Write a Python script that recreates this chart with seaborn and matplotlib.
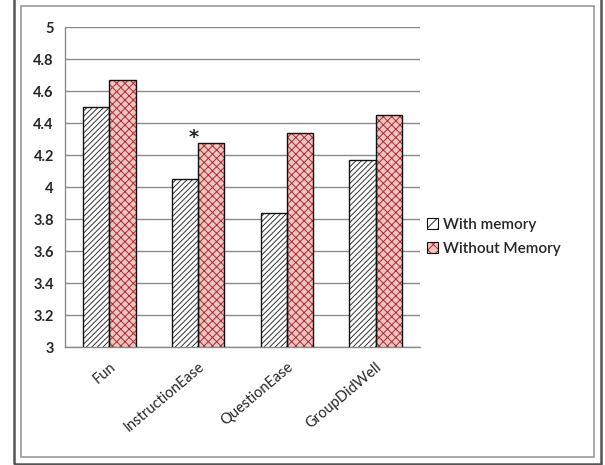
import matplotlib
matplotlib.use('Agg')
import matplotlib.pyplot as plt
from matplotlib.patches import Rectangle, Patch
from matplotlib.ticker import FormatStrFormatter
import pandas as pd
import seaborn as sns

# values
categories = ['Fun', 'InstructionEase', 'QuestionEase', 'GroupDidWell']
with_memory = [4.50, 4.05, 3.84, 4.17]
without_memory = [4.67, 4.28, 4.34, 4.45]
series = ['With memory', 'Without Memory']

df = pd.DataFrame({
    'category': categories * 2,
    'score': with_memory + without_memory,
    'group': [series[0]] * 4 + [series[1]] * 4,
})

sns.set_style('white')
plt.rcParams['font.family'] = ['Lato', 'DejaVu Sans']
plt.rcParams['hatch.linewidth'] = 0.7

fig = plt.figure(figsize=(6.05, 4.65), dpi=100)
ax = fig.add_axes([0.1074, 0.2531, 0.5868, 0.6882])

sns.barplot(data=df, x='category', y='score', hue='group', order=categories,
            hue_order=series, width=0.59, ax=ax, legend=False)

styles = [
    dict(face='white', hatch='//////', hcolor='#333333'),
    dict(face='#ebc4c4', hatch='xxxx', hcolor='#b22a2a'),
]
for cont, st in zip(ax.containers, styles):
    for p in cont:
        p.set_facecolor(st['face'])
        p.set_hatch(st['hatch'])
        p.set_edgecolor(st['hcolor'])
        p.set_linewidth(0)
        ax.add_patch(Rectangle(p.get_xy(), p.get_width(), p.get_height(),
                               fill=False, edgecolor='#111111', lw=1.0, zorder=3))

ax.set_ylim(3, 5)
ax.set_xlim(-0.5, 3.5)
ax.set_yticks([3 + 0.2 * i for i in range(11)])
ax.yaxis.set_major_formatter(FormatStrFormatter('%g'))
ax.grid(axis='y', color='#8a8a8a', lw=1.0)
ax.set_axisbelow(True)
for s in ['top', 'right']:
    ax.spines[s].set_visible(False)
for s in ['left', 'bottom']:
    ax.spines[s].set_color('#8a8a8a')
    ax.spines[s].set_linewidth(1.0)

ax.tick_params(axis='y', length=5, width=1, color='#8a8a8a', labelsize=10.5, pad=3)
ax.set_xticks(range(len(categories)))
ax.set_xticklabels(categories, rotation=40, ha='right', rotation_mode='anchor',
                   fontsize=10.5)
ax.tick_params(axis='x', which='major', length=0, pad=9)
ax.set_xticks([i - 0.5 for i in range(len(categories) + 1)], minor=True)
ax.tick_params(axis='x', which='minor', length=5, width=1, color='#8a8a8a',
               direction='out')
for lbl in ax.get_yticklabels():
    lbl.set_fontweight('bold')
ax.set_xlabel('')
ax.set_ylabel('')

# significance marker
ax.text(0.95, 4.255, '*', ha='center', va='bottom', fontsize=14,
        fontweight='bold', family='DejaVu Sans')

handles = []
for st in styles:
    h1 = Patch(facecolor=st['face'], hatch=st['hatch'][:3], edgecolor=st['hcolor'], lw=0)
    h2 = Patch(fill=False, edgecolor='#111111', lw=0.8)
    handles.append((h1, h2))
leg = fig.legend(handles, series, loc='center left', bbox_to_anchor=(0.683, 0.49),
                 frameon=False, fontsize=11, handlelength=0.75, handleheight=0.75,
                 handletextpad=0.3, labelspacing=0.65)
for t in leg.get_texts():
    t.set_fontweight('semibold')

# double frame round the chart
fig.patches.append(Rectangle((0.023, 0.002), 0.970, 1.1, transform=fig.transFigure,
                             fill=False, edgecolor='#555555', lw=1.8))
fig.patches.append(Rectangle((0.0347, 0.0172), 0.9473, 0.970, transform=fig.transFigure,
                             fill=False, edgecolor='#9a9a9a', lw=1.2))

fig.savefig('out.png', dpi=100)
